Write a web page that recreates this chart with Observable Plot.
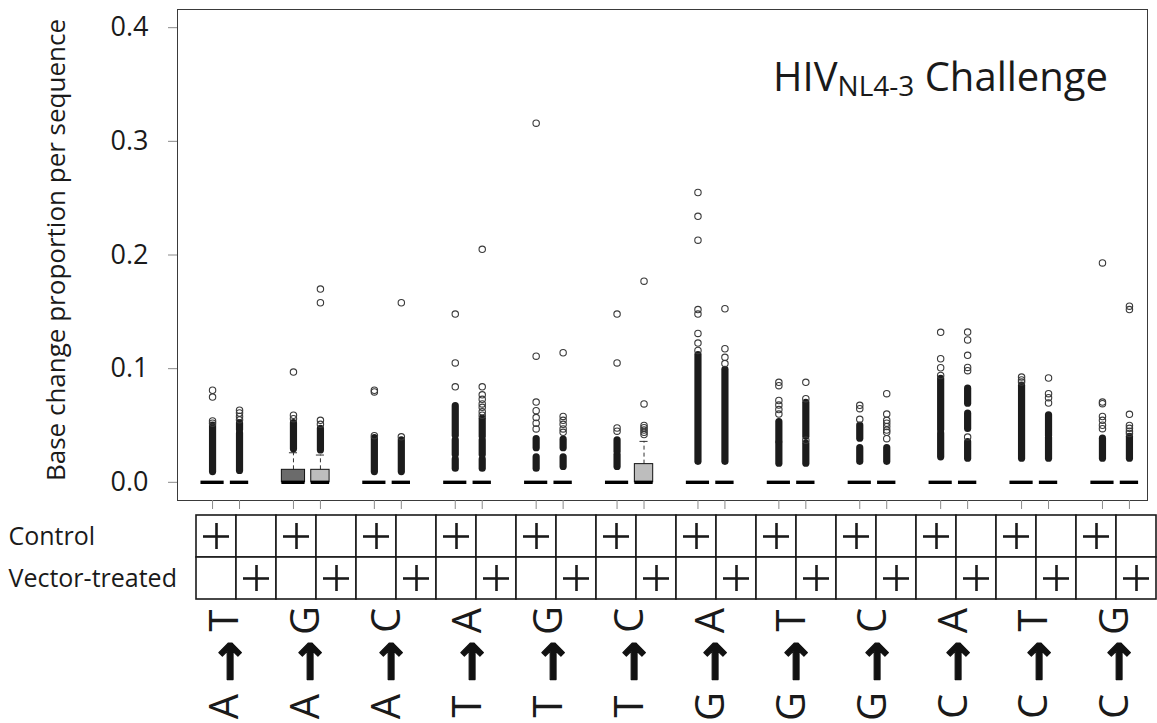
<!DOCTYPE html>
<html><head><meta charset="utf-8">
<script src="https://cdn.jsdelivr.net/npm/d3@7"></script>
<script src="https://cdn.jsdelivr.net/npm/@observablehq/plot@0.6"></script>
<style>
html,body{margin:0;padding:0;background:#fff;}
#wrap{position:relative;width:1157px;height:723px;overflow:hidden;font-family:"Open Sans",sans-serif;color:#1a1a1a}
#wrap svg{position:absolute;left:0;top:0;max-width:none !important}
#title{position:absolute;right:49px;top:56px;font-size:40px;line-height:40px;white-space:nowrap;z-index:5}
#title sub{font-size:28px;vertical-align:-5px;line-height:0}
</style></head>
<body><div id="wrap"><div id="title">HIV<sub>NL4-3</sub> Challenge</div></div>
<script>
// ---- data ----
const mutations = ["A→T","A→G","A→C","T→A","T→G","T→C","G→A","G→T","G→C","C→A","C→T","C→G"];
const fromBases = ["A","A","A","T","T","T","G","G","G","C","C","C"];
const toBases   = ["T","G","C","A","G","C","A","T","C","A","T","G"];
const groups = ["Control","Vector-treated"];
const yTicks = [0, 0.1, 0.2, 0.3, 0.4];
const yLabel = "Base change proportion per sequence";
// per box, ordered mutation × group (Control, Vector-treated)
const q1Values     = [0,0, 0,0, 0,0, 0,0, 0,0, 0,0, 0,0, 0,0, 0,0, 0,0, 0,0, 0,0];
const medianValues = [0,0, 0,0, 0,0, 0,0, 0,0, 0,0, 0,0, 0,0, 0,0, 0,0, 0,0, 0,0];
const q3Values     = [0,0, 0.011,0.011, 0,0, 0,0, 0,0, 0,0.016, 0,0, 0,0, 0,0, 0,0, 0,0, 0,0];
const upperWhisker = [0,0, 0.026,0.024, 0,0, 0,0, 0,0, 0,0.036, 0,0, 0,0, 0,0, 0,0, 0,0, 0,0];
// individually visible outliers
const outliers = [
  [0.081, 0.075, 0.054, 0.052],
  [0.0635, 0.061, 0.058, 0.055],
  [0.097, 0.059, 0.056],
  [0.170, 0.158, 0.0545, 0.051],
  [0.081, 0.0795, 0.041],
  [0.158, 0.040],
  [0.148, 0.105, 0.084],
  [0.205, 0.084, 0.077, 0.073, 0.069, 0.066, 0.062, 0.059],
  [0.316, 0.111, 0.0706, 0.063, 0.057, 0.052, 0.047],
  [0.114, 0.058, 0.0545, 0.051, 0.047, 0.044],
  [0.148, 0.105, 0.0478, 0.045],
  [0.177, 0.069, 0.050, 0.048, 0.046, 0.044, 0.042],
  [0.255, 0.234, 0.213, 0.152, 0.148, 0.131, 0.1225, 0.116],
  [0.1527, 0.1175, 0.110, 0.1045],
  [0.088, 0.085, 0.072, 0.068, 0.064, 0.060],
  [0.088, 0.0736, 0.037],
  [0.0677, 0.0648, 0.0554],
  [0.078, 0.060, 0.0545, 0.052, 0.049, 0.046, 0.044, 0.0384],
  [0.132, 0.1087, 0.1008, 0.094],
  [0.1322, 0.1253, 0.1117, 0.1011, 0.0982, 0.0398],
  [0.0926, 0.090, 0.0882],
  [0.0918, 0.078, 0.0745, 0.0698],
  [0.193, 0.0706, 0.0692, 0.0579, 0.0545, 0.0502, 0.0472],
  [0.155, 0.152, 0.0598, 0.050, 0.0475, 0.045, 0.043]
];
// ranges where outliers overlap into a solid column [low, high]
const denseOutlierRuns = [
  [[0.009, 0.050]],
  [[0.010, 0.043], [0.046, 0.052]],
  [[0.029, 0.052]],
  [[0.028, 0.047]],
  [[0.009, 0.039]],
  [[0.009, 0.037]],
  [[0.012, 0.020], [0.024, 0.037], [0.041, 0.067]],
  [[0.012, 0.020], [0.024, 0.037], [0.040, 0.056]],
  [[0.012, 0.022], [0.030, 0.038]],
  [[0.0135, 0.022], [0.030, 0.0375]],
  [[0.0135, 0.024], [0.027, 0.037]],
  [],
  [[0.018, 0.112]],
  [[0.018, 0.099]],
  [[0.0164, 0.0345], [0.036, 0.053]],
  [[0.0164, 0.034], [0.040, 0.070]],
  [[0.018, 0.030], [0.0384, 0.050]],
  [[0.018, 0.030]],
  [[0.022, 0.043], [0.046, 0.091]],
  [[0.0208, 0.0354], [0.047, 0.0604], [0.0692, 0.0824]],
  [[0.0208, 0.085]],
  [[0.0208, 0.039], [0.041, 0.059]],
  [[0.0208, 0.0384]],
  [[0.0208, 0.040]]
];

// ---- derived tables ----
const boxes = d3.range(24).map(i => ({
  mutation: mutations[Math.floor(i / 2)],
  group: groups[i % 2],
  pos: Math.floor(i / 2) * 3 + (i % 2) + 1,
  q1: q1Values[i], median: medianValues[i], q3: q3Values[i], whisker: upperWhisker[i]
}));
const halfW = {"Control": 0.43, "Vector-treated": 0.34};
const capHalf = 0.15;
const outlierPts = boxes.flatMap((b, i) => outliers[i].map(v => ({pos: b.pos, value: v})));
const runs = boxes.flatMap((b, i) => denseOutlierRuns[i].map(([lo, hi]) => ({pos: b.pos, lo, hi})));
const withWhisker = boxes.filter(d => d.whisker > d.q3);
const withBox = boxes.filter(d => d.q3 > d.q1);

const baseStyle = {fontFamily: "'Open Sans', sans-serif", fontSize: "26px", background: "transparent", color: "#1a1a1a", overflow: "visible", maxWidth: "none"};
const xDomain = [-0.3, 35.67];

const wrap = document.getElementById("wrap");

const main = Plot.plot({
  width: 1157, height: 512,
  marginTop: 9, marginBottom: 12, marginLeft: 177, marginRight: 10,
  x: {domain: xDomain},
  y: {domain: [-0.016, 0.416]},
  color: {domain: groups, range: ["#6b6b6b", "#bdbdbd"]},
  style: baseStyle,
  marks: [
    Plot.frame({stroke: "#3a3a3a"}),
    Plot.axisY({ticks: yTicks, tickFormat: d3.format(".1f"), tickSize: 9, tickPadding: 20,
      stroke: "#8a8a8a", fill: "#1a1a1a", fontSize: 27, label: null}),
    Plot.text([yLabel], {text: d => d, frameAnchor: "left", textAnchor: "middle", rotate: -90, dx: -121, dy: -5, fontSize: 26, fill: "#1a1a1a"}),
    Plot.axisX({ticks: boxes.map(d => d.pos), tickSize: 9, tickFormat: () => "", stroke: "#8a8a8a", label: null}),
    Plot.ruleX(withWhisker, {x: "pos", y1: "q3", y2: "whisker", stroke: "#333", strokeDasharray: "4,3"}),
    Plot.ruleY(withWhisker, {y: "whisker", x1: d => d.pos - capHalf, x2: d => d.pos + capHalf, stroke: "#333"}),
    Plot.rect(withBox, {x1: d => d.pos - halfW[d.group], x2: d => d.pos + halfW[d.group], y1: "q1", y2: "q3", fill: "group", stroke: "#111"}),
    Plot.ruleY(boxes, {y: "median", x1: d => d.pos - halfW[d.group], x2: d => d.pos + halfW[d.group], stroke: "#000", strokeWidth: 3.4}),
    Plot.ruleX(runs, {x: "pos", y1: "lo", y2: "hi", stroke: "#1c1c1c", strokeWidth: 7.2, strokeLinecap: "round"}),
    Plot.dot(outlierPts, {x: "pos", y: "value", r: 3.2, stroke: "#3a3a3a", strokeWidth: 1.1, fill: "none"})
  ]
});
wrap.appendChild(main);

const cells = d3.cross(d3.range(24), groups).map(([cell, group]) => ({cell, group}));
const pluses = boxes.map((b, i) => ({cell: i, group: b.group}));
const table = Plot.plot({
  width: 1162, height: 723,
  marginTop: 514, marginBottom: 124, marginLeft: 189, marginRight: 0,
  x: {type: "band", domain: d3.range(24), padding: 0, axis: null},
  y: {type: "band", domain: groups, padding: 0, axis: null},
  style: baseStyle,
  marks: [
    Plot.cell(cells, {x: "cell", y: "group", fill: "white", stroke: "#1a1a1a", strokeWidth: 1.6, inset: 0}),
    Plot.ruleX(pluses, {x: "cell", y1: "group", y2: "group", insetTop: 8, insetBottom: 8, stroke: "#1a1a1a", strokeWidth: 2.6}),
    Plot.ruleY(pluses, {y: "group", x1: "cell", x2: "cell", insetLeft: 7, insetRight: 7, stroke: "#1a1a1a", strokeWidth: 2.6}),
    Plot.text(groups, {y: d => d, text: d => d, frameAnchor: "left", textAnchor: "start", dx: -181, fontSize: 25, fill: "#1a1a1a"})
  ]
});
wrap.appendChild(table);

const labels = Plot.plot({
  width: 1157, height: 723,
  marginTop: 600, marginBottom: 0, marginLeft: 177, marginRight: 10,
  x: {domain: xDomain, axis: null},
  style: baseStyle,
  marks: [
    Plot.text(mutations, {x: (d, i) => i * 3 + 1.5, text: (d, i) => fromBases[i], frameAnchor: "top", rotate: -90, dx: -16, dy: 106, fontSize: 40, fill: "#1a1a1a"}),
    Plot.text(mutations, {x: (d, i) => i * 3 + 1.5, text: () => "→", frameAnchor: "top", rotate: -90, dx: -16, dy: 61, fontSize: 50, fontWeight: "bold", fontFamily: "DejaVu Sans", fill: "#111", stroke: "#111", strokeWidth: 1.2}),
    Plot.text(mutations, {x: (d, i) => i * 3 + 1.5, text: (d, i) => toBases[i], frameAnchor: "top", rotate: -90, dx: -16, dy: 20, fontSize: 40, fill: "#1a1a1a"})
  ]
});
wrap.appendChild(labels);
</script></body></html>
